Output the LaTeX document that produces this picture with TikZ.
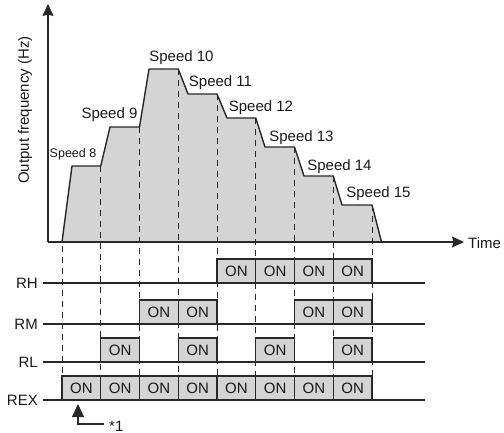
\documentclass[tikz,border=0pt]{standalone}
\usepackage{fontspec}
\setmainfont{Liberation Sans}
\usetikzlibrary{arrows.meta}
\definecolor{ln}{RGB}{40,40,40}
\definecolor{tx}{RGB}{25,25,25}
\definecolor{fl}{RGB}{212,212,212}
\begin{document}
\begin{tikzpicture}[x=1pt,y=-1pt,
  font=\fontsize{15}{18}\selectfont,
  axisline/.style={draw=ln,line width=1.4pt},
  guide/.style={draw=ln,line width=0.9pt,dash pattern=on 6pt off 5pt},
  sigline/.style={draw=ln,line width=1.2pt},
  onbox/.style={draw=ln,fill=fl,line width=1.1pt,minimum width=38.75pt,minimum height=24pt,inner sep=0pt,text=tx},
  lbl/.style={inner sep=0pt,text=tx},
  bigtip/.style={-{Stealth[length=12pt,width=11pt,inset=1.5pt]}}]
\useasboundingbox (0,0) rectangle (504,433);

% axes coordinates
\coordinate (origin) at (48,242);
\coordinate (ytop) at (48,4);
\coordinate (xend) at (464,242);

% speed profile
\fill[fl] (62,242) -- (72,166) -- (100.75,166) -- (110,127) -- (139.5,127) -- (149,69) -- (178.25,69) -- (188,94) -- (217,94) -- (227,118) -- (255.75,118) -- (265,147) -- (294.5,147) -- (304,176) -- (333.25,176) -- (342,205) -- (372,205) -- (381.5,242) -- cycle;

% guide lines
\coordinate (g0) at (62,246);
\coordinate (g1) at (100.75,166);
\coordinate (g2) at (139.5,127);
\coordinate (g3) at (178.25,69);
\coordinate (g4) at (217,94);
\coordinate (g5) at (255.75,118);
\coordinate (g6) at (294.5,147);
\coordinate (g7) at (333.25,176);
\coordinate (g8) at (372,205);
\foreach \i/\x in {0/62,1/100.75,2/139.5,3/178.25,4/217,5/255.75,6/294.5,7/333.25,8/372} {
  \coordinate (e\i) at (\x,376);
  \draw[guide] (g\i) -- (e\i);
}

\draw[draw=ln,line width=1.4pt,line join=round] (62,242) -- (72,166) -- (100.75,166) -- (110,127) -- (139.5,127) -- (149,69) -- (178.25,69) -- (188,94) -- (217,94) -- (227,118) -- (255.75,118) -- (265,147) -- (294.5,147) -- (304,176) -- (333.25,176) -- (342,205) -- (372,205) -- (381.5,242);

\draw[axisline,bigtip] (origin) -- (ytop);
\draw[axisline,bigtip] (origin) -- (xend);

\node[lbl,rotate=90] (ylab) at (25,110) {Output frequency (Hz)};
\node[lbl,anchor=west] (tlab) at (468,243) {Time};

\node[lbl,font=\fontsize{12.5}{15}\selectfont] (s8) at (73,154) {Speed 8};
\node[lbl] (s9) at (109.5,115) {Speed 9};
\node[lbl] (s10) at (181.5,58) {Speed 10};
\node[lbl] (s11) at (220.5,83) {Speed 11};
\node[lbl] (s12) at (261,108) {Speed 12};
\node[lbl] (s13) at (301.5,138) {Speed 13};
\node[lbl] (s14) at (339.5,167) {Speed 14};
\node[lbl] (s15) at (378.5,194) {Speed 15};

% signal lines
\foreach \n/\y in {RH/283,RM/324,RL/362,REX/400} {
  \node[lbl,anchor=east] (l\n) at (38,\y) {\n};
  \coordinate (a\n) at (43,\y);
  \coordinate (z\n) at (425,\y);
  \draw[sigline] (a\n) -- (z\n);
}

% ON boxes: slot index i covers d_{i-1}..d_i
\foreach \n/\y/\slots in {RH/283/{5,6,7,8},RM/324/{3,4,7,8},RL/362/{2,4,6,8},REX/400/{1,2,3,4,5,6,7,8}} {
  \foreach \s in \slots {
    \node[onbox] (on\n\s) at ({62+38.75*(\s-0.5)},{\y-12}) {ON};
  }
}

% *1 annotation
\coordinate (k1) at (78,424);
\coordinate (k2) at (78,404);
\coordinate (k3) at (104,424);
\draw[sigline,line width=1.1pt,-{Triangle[length=13pt,width=12pt]}] (k3) -- (k1) -- (k2);
\node[lbl,anchor=west] (star) at (109,426) {*1};
\end{tikzpicture}
\end{document}
